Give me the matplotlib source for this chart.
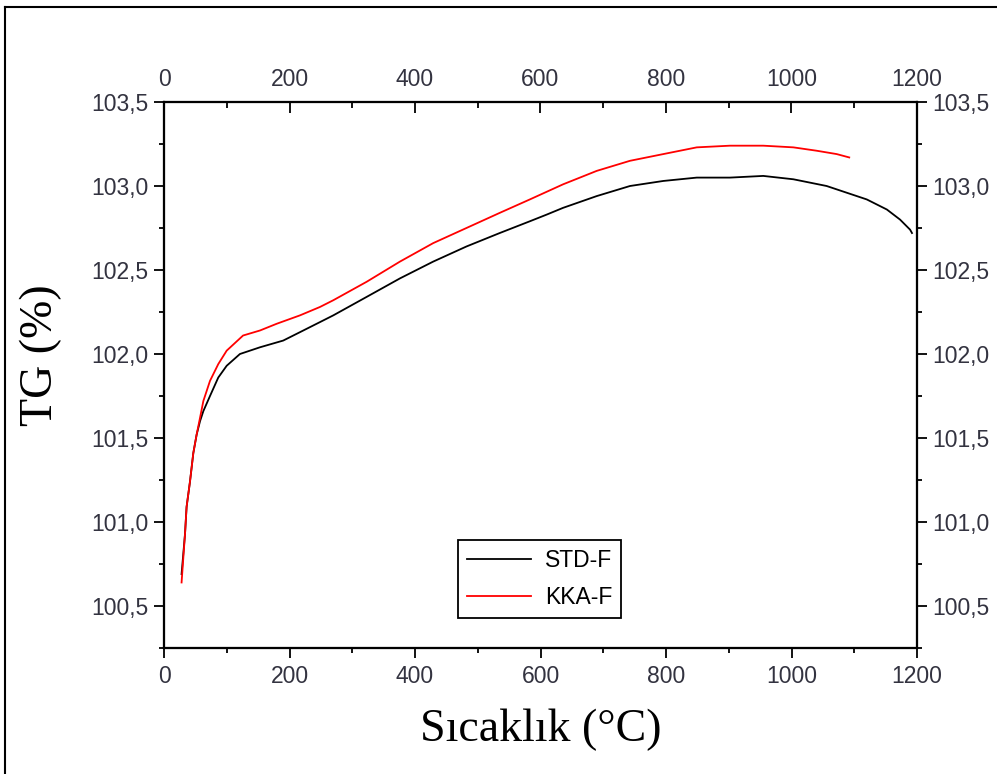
import matplotlib
matplotlib.use("Agg")
import matplotlib.pyplot as plt
from matplotlib.lines import Line2D
from matplotlib.ticker import MultipleLocator, FuncFormatter

plt.rcParams["font.family"] = ["Liberation Sans", "DejaVu Sans"]

# --- data ---
std_x = [28, 33.5, 36, 41.4, 46.7, 52, 57.4, 62.7, 73.3, 86.5, 99.9, 121, 153, 190,
         216.7, 248.6, 269.8, 323, 376, 429, 482, 535, 583, 610, 636, 689.6, 742.6,
         795.7, 849, 902, 955, 1003, 1056, 1088, 1120, 1152, 1173, 1189, 1192]
std_y = [100.69, 100.93, 101.09, 101.24, 101.41, 101.52, 101.60, 101.66, 101.75, 101.86,
         101.93, 102.00, 102.04, 102.08, 102.13, 102.19, 102.23, 102.34, 102.45, 102.55,
         102.64, 102.72, 102.79, 102.83, 102.87, 102.94, 103.00, 103.03, 103.05, 103.05,
         103.06, 103.04, 103.00, 102.96, 102.92, 102.86, 102.80, 102.74, 102.72]

kka_x = [28, 33.5, 36, 41.4, 46.7, 52, 57.4, 62.7, 73.3, 86.5, 99.9, 126, 153, 179.6,
         216.7, 248.6, 269.8, 323, 376, 429, 482, 535, 583, 636, 689.6, 742.6, 795.7,
         849, 902, 955, 1003, 1040, 1072, 1092]
kka_y = [100.64, 100.93, 101.09, 101.24, 101.41, 101.52, 101.62, 101.72, 101.84, 101.94,
         102.02, 102.11, 102.14, 102.18, 102.23, 102.28, 102.32, 102.43, 102.55, 102.66,
         102.75, 102.84, 102.92, 103.01, 103.09, 103.15, 103.19, 103.23, 103.24, 103.24,
         103.23, 103.21, 103.19, 103.17]

series_labels = ["STD-F", "KKA-F"]
x_label = "Sıcaklık (°C)"
y_label = "TG (%)"

# --- figure ---
fig = plt.figure(figsize=(9.97, 7.74), dpi=100)
rect = [164/997, 1-648/774, (917-164)/997, (648-102)/774]
ax = fig.add_axes(rect)

ax.plot(std_x, std_y, color="black", lw=1.3, label=series_labels[0])
ax.plot(kka_x, kka_y, color="#ff0000", lw=1.3, label=series_labels[1])

xlim = (0, 1200)
ylim = (100.25, 103.5)
ax.set_xlim(*xlim)
ax.set_ylim(*ylim)

tick_color = "#333340"
fs_tick = 16.5
comma = FuncFormatter(lambda v, p: f"{v:.1f}".replace(".", ","))

ax.xaxis.set_major_locator(MultipleLocator(200))
ax.xaxis.set_minor_locator(MultipleLocator(100))
ax.yaxis.set_major_locator(MultipleLocator(0.5))
ax.yaxis.set_minor_locator(MultipleLocator(0.25))
ax.yaxis.set_major_formatter(comma)
ax.tick_params(axis="both", which="major", direction="out", length=7, width=1.3,
               labelsize=fs_tick, labelcolor=tick_color)
ax.tick_params(axis="both", which="minor", direction="out", length=3.5, width=1.3)
ax.tick_params(axis="x", pad=5)
ax.tick_params(axis="y", pad=4)
for s in ax.spines.values():
    s.set_linewidth(1.5)

# top axis (ticks inward)
top = ax.twiny()
top.set_xlim(*xlim)
top.xaxis.set_major_locator(MultipleLocator(200))
top.xaxis.set_minor_locator(MultipleLocator(100))
top.tick_params(axis="x", which="major", direction="in", length=8, width=1.3,
                labelsize=fs_tick, labelcolor=tick_color, pad=8)
top.tick_params(axis="x", which="minor", direction="in", length=4.5, width=1.3)
for s in top.spines.values():
    s.set_linewidth(1.5)

# right axis (ticks outward)
right = ax.twinx()
right.set_ylim(*ylim)
right.yaxis.set_major_locator(MultipleLocator(0.5))
right.yaxis.set_minor_locator(MultipleLocator(0.25))
right.yaxis.set_major_formatter(comma)
right.tick_params(axis="y", which="major", direction="out", length=7, width=1.3,
                  labelsize=fs_tick, labelcolor=tick_color, pad=4)
right.tick_params(axis="y", which="minor", direction="out", length=3.5, width=1.3)
for s in right.spines.values():
    s.set_linewidth(1.5)

serif = "Liberation Serif"
ax.set_xlabel(x_label, fontsize=33, family=serif, labelpad=15)
ax.set_ylabel(y_label, fontsize=33, family=serif)
ax.yaxis.set_label_coords(-0.136, 0.537)

leg = right.legend(*ax.get_legend_handles_labels(), loc="lower left",
                   bbox_to_anchor=(0.390, 0.055), fontsize=16.5,
                   frameon=True, fancybox=False, edgecolor="black", framealpha=1,
                   handlelength=2.8, handletextpad=0.6, labelspacing=0.6,
                   borderpad=0.4, borderaxespad=0)
leg.get_frame().set_linewidth(1.3)

# outer frame (left and top edges)
fig.add_artist(Line2D([5/997, 5/997], [0, 1-7/774], transform=fig.transFigure,
                      color="black", lw=1.5))
fig.add_artist(Line2D([5/997, 1], [1-7/774, 1-7/774], transform=fig.transFigure,
                      color="black", lw=1.5))

fig.savefig("out.png", dpi=100)
